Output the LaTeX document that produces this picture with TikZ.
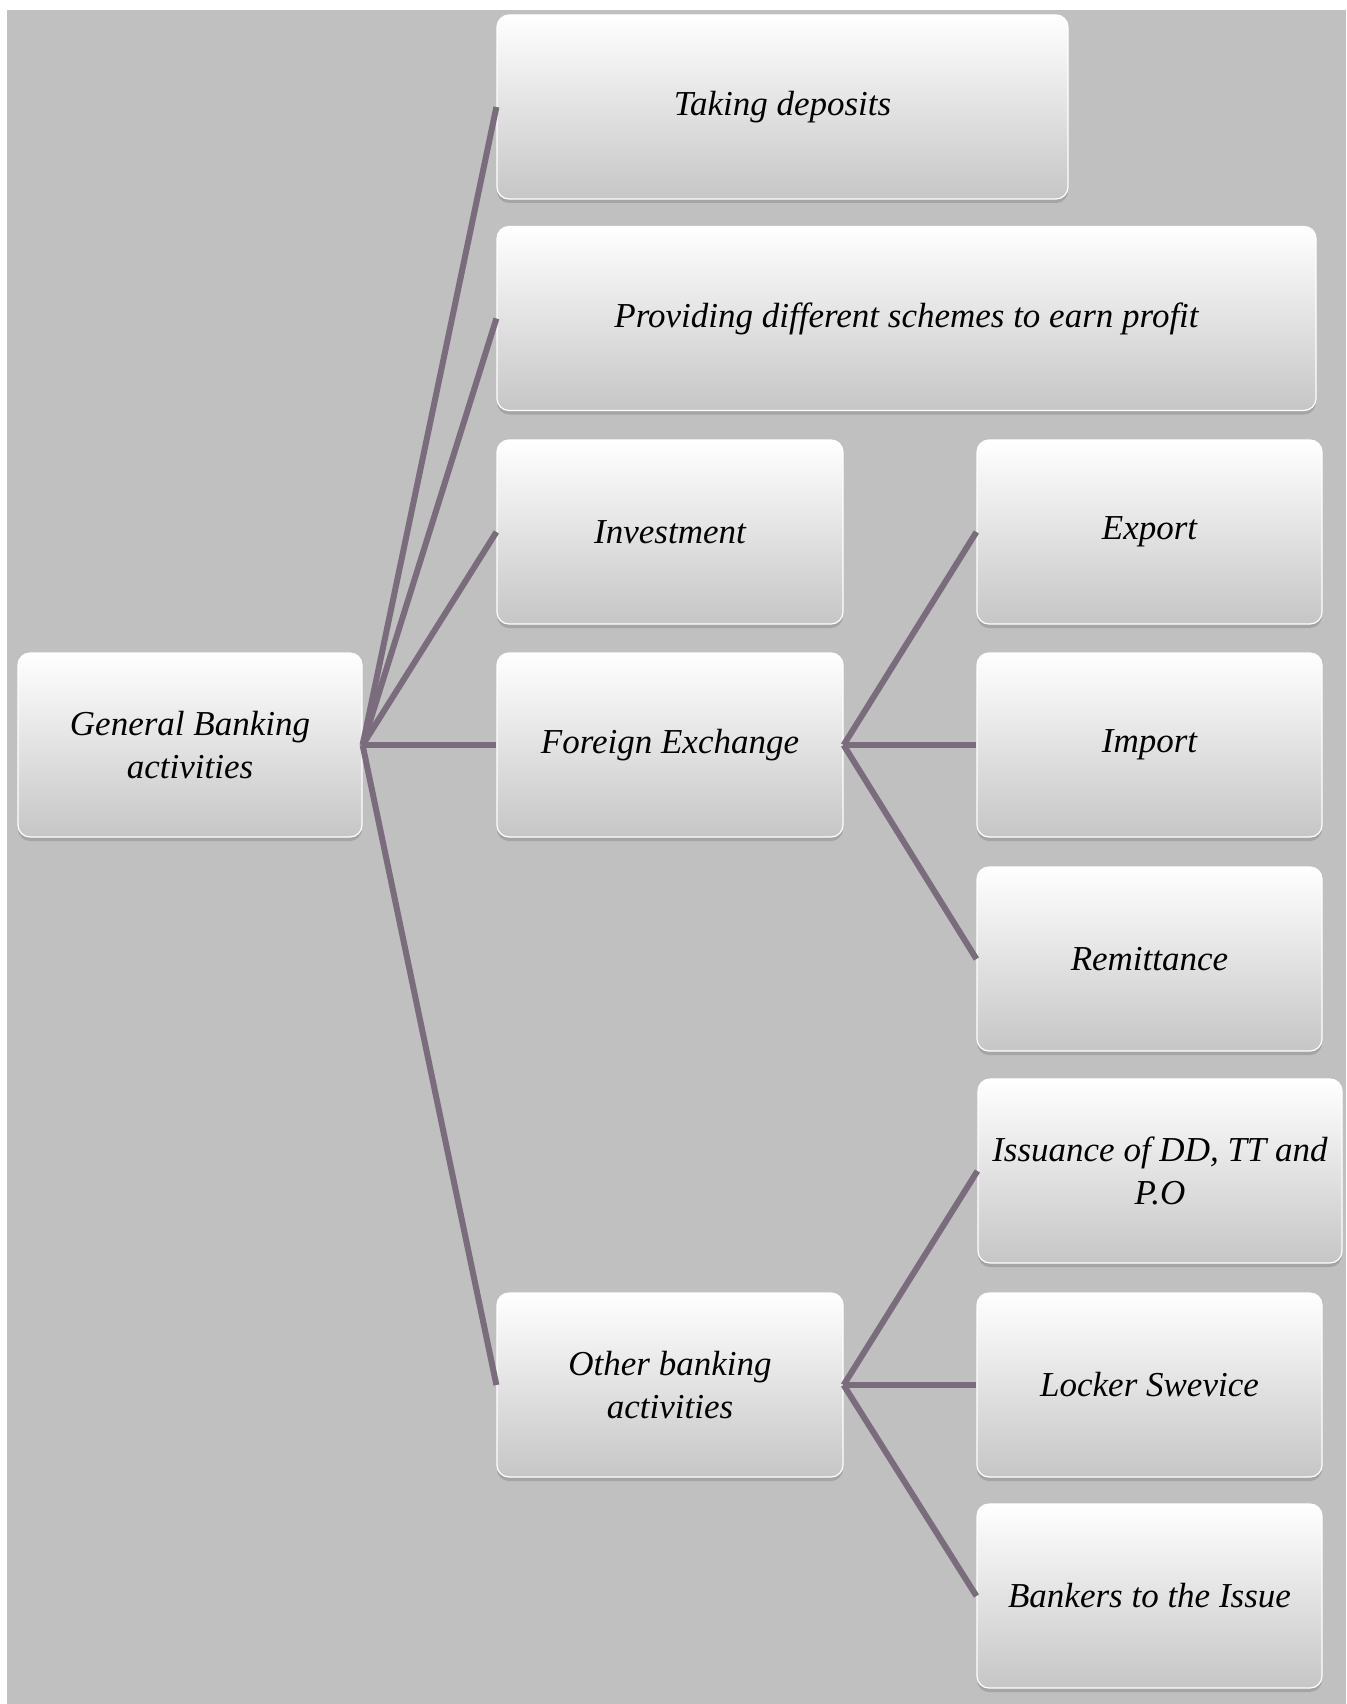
\documentclass[tikz,border=0pt]{standalone}
\usepackage{fontspec}
\setmainfont{Liberation Serif}
\definecolor{bgray}{RGB}{192,192,192}
\definecolor{linkc}{RGB}{122,107,125}
\definecolor{boxbot}{RGB}{198,198,198}
\definecolor{shadowc}{RGB}{165,165,165}
\begin{document}
\begin{tikzpicture}[x=1pt,y=-1pt,
  blockbox/.style={rounded corners=12pt, draw=white, line width=1.2pt,
    top color=white, bottom color=boxbot, align=center, inner sep=2pt,
    font=\fontsize{35}{43}\selectfont\itshape, text=black,
    minimum height=184pt,
    preaction={fill=shadowc, rounded corners=12pt, draw=none, transform canvas={yshift=-4pt}}},
  link/.style={draw=linkc, line width=6pt}]
\useasboundingbox (0,0) rectangle (1346,1704);
\fill[white] (0,0) rectangle (1346,1704);
\fill[bgray] (7,10) rectangle (1346,1704);

\node[blockbox, minimum width=344pt] (gb) at (190,745) {General Banking\\activities};
\node[blockbox, minimum width=571pt] (take) at (782.5,107) {Taking deposits};
\node[blockbox, minimum width=819pt] (prov) at (906.5,318.5) {Providing different schemes to earn profit};
\node[blockbox, minimum width=346pt] (inv) at (670,532) {Investment};
\node[blockbox, minimum width=346pt] (fx) at (670,745) {Foreign Exchange};
\node[blockbox, minimum width=346pt] (oth) at (670,1385) {Other banking\\activities};
\node[blockbox, minimum width=345pt] (exp) at (1149.5,532) {Export};
\node[blockbox, minimum width=345pt] (imp) at (1149.5,745) {Import};
\node[blockbox, minimum width=345pt] (rem) at (1149.5,959) {Remittance};
\node[blockbox, minimum width=364pt] (iss) at (1160,1171) {Issuance of DD, TT and\\P.O};
\node[blockbox, minimum width=345pt] (lock) at (1149.5,1385) {Locker Swevice};
\node[blockbox, minimum width=345pt] (bank) at (1149.5,1596) {Bankers to the Issue};

\foreach \t in {take,prov,inv,fx,oth} \draw[link] (gb.east) -- (\t.west);
\foreach \t in {exp,imp,rem} \draw[link] (fx.east) -- (\t.west);
\foreach \t in {iss,lock,bank} \draw[link] (oth.east) -- (\t.west);
\end{tikzpicture}
\end{document}
